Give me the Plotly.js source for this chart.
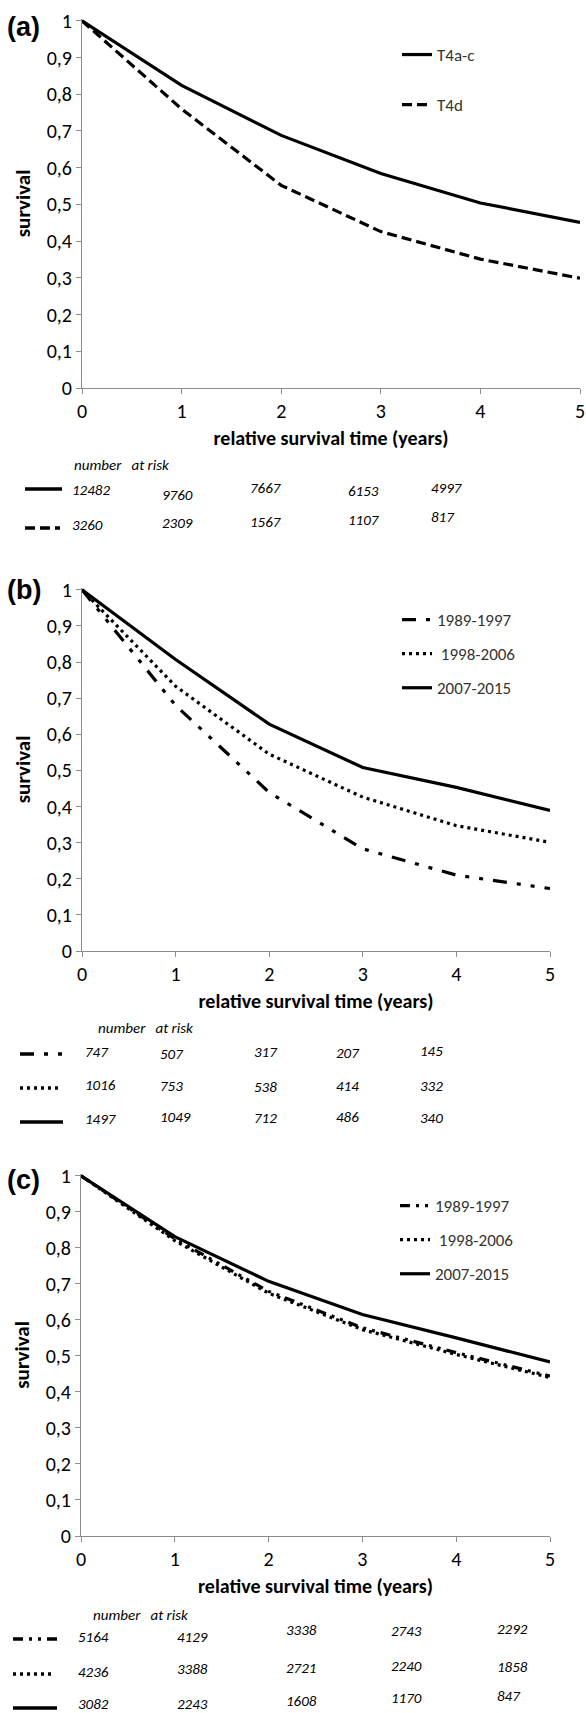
<!DOCTYPE html>
<html>
<head>
<meta charset="utf-8">
<script src="https://cdn.plot.ly/plotly-3.0.1.min.js"></script>
<style>html,body{margin:0;padding:0;background:#fff;}#chart{width:586px;height:1713px;}</style>
</head>
<body>
<div id="chart"></div>
<script>
// ---------------- DATA ----------------
const years = [0, 1, 2, 3, 4, 5];
const yTickVals = [0, 0.1, 0.2, 0.3, 0.4, 0.5, 0.6, 0.7, 0.8, 0.9, 1];
const yTickText = ['0', '0,1', '0,2', '0,3', '0,4', '0,5', '0,6', '0,7', '0,8', '0,9', '1'];

// panel (a)
const a_names = ['T4a-c', 'T4d'];
const a_T4ac = [1, 0.824, 0.688, 0.584, 0.504, 0.451];
const a_T4d  = [1, 0.760, 0.552, 0.426, 0.351, 0.299];
const a_risk_T4ac = [12482, 9760, 7667, 6153, 4997];
const a_risk_T4d  = [3260, 2309, 1567, 1107, 817];

// panel (b)
const b_names = ['1989-1997', ' 1998-2006', '2007-2015'];
const b_8997 = [1, 0.680, 0.439, 0.283, 0.210, 0.173];
const b_9806 = [1, 0.733, 0.545, 0.426, 0.347, 0.301];
const b_0715 = [1, 0.807, 0.628, 0.508, 0.453, 0.389];
const b_risk_8997 = [747, 507, 317, 207, 145];
const b_risk_9806 = [1016, 753, 538, 414, 332];
const b_risk_0715 = [1497, 1049, 712, 486, 340];

// panel (c)
const c_names = ['1989-1997', ' 1998-2006', '2007-2015'];
const c_8997 = [1, 0.825, 0.679, 0.578, 0.509, 0.444];
const c_9806 = [1, 0.820, 0.674, 0.573, 0.504, 0.440];
const c_0715 = [1, 0.831, 0.707, 0.615, 0.550, 0.483];
const c_risk_8997 = [5164, 4129, 3338, 2743, 2292];
const c_risk_9806 = [4236, 3388, 2721, 2240, 1858];
const c_risk_0715 = [3082, 2243, 1608, 1170, 847];

// ---------------- LAYOUT HELPERS ----------------
const W = 586, H = 1713;
const px = x => x / W;
const py = y => 1 - y / H;
const FONT = 'Carlito, Lato, sans-serif';
const AXC = '#8c8c8c';

const STY = {
  solid: 'solid',
  dash: '10px,5px',
  dashdot: '14px,10px,4px,10px,4px,10px',
  dot: '3px,4px',
  dashdotC: '10px,6px,3px,6px,3px,6px'
};

function mkX(domain, anchor) {
  return {
    domain: domain, anchor: anchor, range: [0, 5], tickvals: years,
    showline: true, linecolor: AXC, linewidth: 1, ticks: 'outside', ticklen: 5, tickcolor: AXC,
    showgrid: false, zeroline: false, fixedrange: true,
    tickfont: {family: FONT, size: 20, color: '#000'},
    title: {text: 'relative survival time (years)', font: {family: FONT, size: 20, color: '#000', weight: 'bold'}, standoff: 8}
  };
}
function mkY(domain, anchor) {
  return {
    domain: domain, anchor: anchor, range: [0, 1.005], tickvals: yTickVals, ticktext: yTickText,
    showline: true, linecolor: AXC, linewidth: 1, ticks: 'outside', ticklen: 5, tickcolor: AXC,
    showgrid: false, zeroline: false, fixedrange: true,
    tickfont: {family: FONT, size: 20, color: '#000'},
    title: {text: 'survival', font: {family: FONT, size: 21, color: '#000', weight: 'bold'}, standoff: 10}
  };
}

function tr(y, name, xa, ya, dash, lg, grp) {
  return {
    x: years, y: y, name: name, type: 'scatter', mode: 'lines',
    xaxis: xa, yaxis: ya, legend: lg, legendgroup: grp,
    line: {color: '#000', width: 3.2, dash: dash}, hoverinfo: 'skip'
  };
}

const data = [
  tr(a_T4ac, a_names[0], 'x', 'y', STY.solid, 'legend', 'a1'),
  tr(a_T4d, a_names[1], 'x', 'y', STY.dash, 'legend', 'a2'),
  tr(b_8997, b_names[0], 'x2', 'y2', STY.dashdot, 'legend2', 'b1'),
  tr(b_9806, b_names[1], 'x2', 'y2', STY.dot, 'legend2', 'b2'),
  tr(b_0715, b_names[2], 'x2', 'y2', STY.solid, 'legend2', 'b3'),
  tr(c_8997, c_names[0], 'x3', 'y3', STY.dashdotC, 'legend3', 'c1'),
  tr(c_9806, c_names[1], 'x3', 'y3', STY.dot, 'legend3', 'c2'),
  tr(c_0715, c_names[2], 'x3', 'y3', STY.solid, 'legend3', 'c3')
];

// plot areas (pixels)
const plotA = {x0: 82, x1: 580, y0: 19, y1: 388};
const plotB = {x0: 82, x1: 550, y0: 588, y1: 951};
const plotC = {x0: 81, x1: 550, y0: 1174, y1: 1536};

function legendCfg(x, y, gap) {
  return {x: px(x), y: py(y), xanchor: 'left', yanchor: 'top', bgcolor: 'rgba(0,0,0,0)',
    font: {family: FONT, size: 17, color: '#333'}, tracegroupgap: gap, itemwidth: 30, borderwidth: 0};
}

// number-at-risk table layout (pixel positions of columns/rows)
const riskTables = [
  {head: {x: 72, y: 465}, cols: [70, 160, 248, 346, 429],
   rows: [
     {vals: a_risk_T4ac, y: [490, 495, 488, 491, 488], dash: STY.solid, key: [25, 62, 489]},
     {vals: a_risk_T4d, y: [525, 523, 522, 520, 517], dash: STY.dash, key: [25, 60, 528]}
   ]},
  {head: {x: 96, y: 1028}, cols: [83, 158, 252, 334, 418],
   rows: [
     {vals: b_risk_8997, y: [1052, 1054, 1052, 1053, 1051], dash: STY.dashdot, key: [20, 63, 1054]},
     {vals: b_risk_9806, y: [1085, 1086, 1087, 1086, 1086], dash: STY.dot, key: [20, 60, 1088]},
     {vals: b_risk_0715, y: [1119, 1117, 1118, 1117, 1118], dash: STY.solid, key: [20, 63, 1122]}
   ]},
  {head: {x: 91, y: 1615}, cols: [76, 175, 284, 389, 495],
   rows: [
     {vals: c_risk_8997, y: [1637, 1637, 1630, 1631, 1629], dash: STY.dashdotC, key: [13, 57, 1639]},
     {vals: c_risk_9806, y: [1672, 1669, 1668, 1666, 1667], dash: STY.dot, key: [13, 53, 1674]},
     {vals: c_risk_0715, y: [1704, 1704, 1701, 1698, 1696], dash: STY.solid, key: [13, 57, 1708]}
   ]}
];

const annotations = [];
const shapes = [];
[['(a)', 23, 27], ['(b)', 24, 590], ['(c)', 23, 1180]].forEach(p => {
  annotations.push({text: p[0], xref: 'paper', yref: 'paper', x: px(p[1]), y: py(p[2]),
    xanchor: 'center', yanchor: 'middle', showarrow: false,
    font: {family: 'Liberation Sans, Arial, sans-serif', size: 27, color: '#000', weight: 'bold'}});
});
riskTables.forEach(t => {
  annotations.push({text: 'number\u00a0\u00a0 at risk', xref: 'paper', yref: 'paper', x: px(t.head.x), y: py(t.head.y),
    xanchor: 'left', yanchor: 'middle', showarrow: false,
    font: {family: FONT, size: 15, color: '#000', style: 'italic'}});
  t.rows.forEach(r => {
    r.vals.forEach((v, i) => {
      annotations.push({text: String(v), xref: 'paper', yref: 'paper', x: px(t.cols[i]), y: py(r.y[i]),
        xanchor: 'left', yanchor: 'middle', showarrow: false,
        font: {family: FONT, size: 15, color: '#000', style: 'italic'}});
    });
    shapes.push({type: 'line', xref: 'paper', yref: 'paper', x0: px(r.key[0]), x1: px(r.key[1]),
      y0: py(r.key[2]), y1: py(r.key[2]), line: {color: '#000', width: 3.5, dash: r.dash}});
  });
});

const layout = {
  width: W, height: H, margin: {l: 0, r: 0, t: 0, b: 0},
  paper_bgcolor: '#fff', plot_bgcolor: '#fff', showlegend: true,
  xaxis: mkX([px(plotA.x0), px(plotA.x1)], 'y'),
  yaxis: mkY([py(plotA.y1), py(plotA.y0)], 'x'),
  xaxis2: mkX([px(plotB.x0), px(plotB.x1)], 'y2'),
  yaxis2: mkY([py(plotB.y1), py(plotB.y0)], 'x2'),
  xaxis3: mkX([px(plotC.x0), px(plotC.x1)], 'y3'),
  yaxis3: mkY([py(plotC.y1), py(plotC.y0)], 'x3'),
  legend: legendCfg(397, 37, 25),
  legend2: legendCfg(397, 602, 9),
  legend3: legendCfg(395, 1188, 9),
  annotations: annotations,
  shapes: shapes
};

Plotly.newPlot('chart', data, layout, {displayModeBar: false, staticPlot: true});
</script>
</body>
</html>
